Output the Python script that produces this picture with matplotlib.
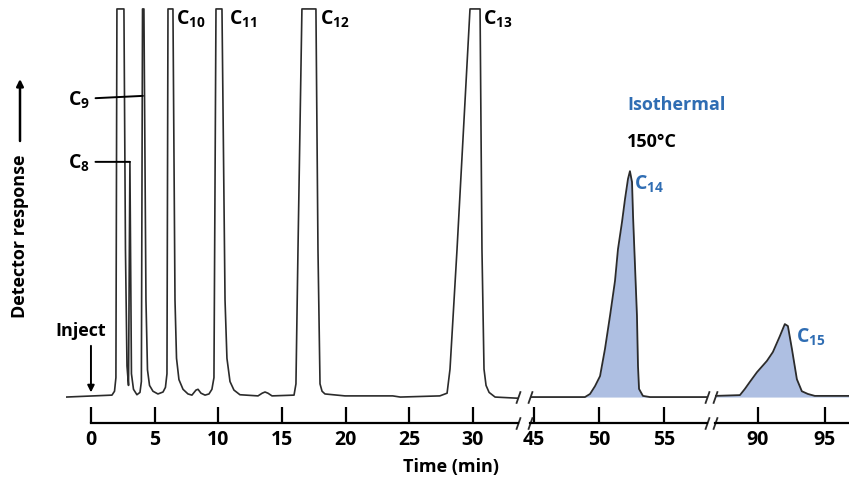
import matplotlib
matplotlib.use("Agg")
import matplotlib.pyplot as plt

plt.rcParams['font.family'] = ['Open Sans', 'DejaVu Sans']
plt.rcParams['font.weight'] = 'bold'
plt.rcParams['mathtext.fontset'] = 'custom'
plt.rcParams['mathtext.rm'] = 'Open Sans:bold'
plt.rcParams['mathtext.bf'] = 'Open Sans:bold'
plt.rcParams['mathtext.default'] = 'rm'

# Temperature-programmed part (0-33 min)
seg1_time = [-1.96, 1.65, 1.85, 1.96, 2.04, 2.59, 2.71, 2.83, 2.95, 3.06, 3.18, 3.34,
             3.61, 3.85, 3.96, 4.05, 4.16, 4.32, 4.44, 4.60, 4.87, 5.26, 5.66, 5.85,
             5.97, 6.05, 6.44, 6.60, 6.72, 6.91, 7.23, 7.62, 7.93, 8.25, 8.41, 8.64,
             8.96, 9.27, 9.50, 9.66, 9.82, 10.29, 10.53, 10.68, 10.92, 11.23, 11.70,
             13.12, 13.45, 13.67, 13.90, 14.22, 15.95, 16.10, 16.26, 16.57, 17.67,
             17.83, 17.99, 18.15, 18.38, 19.95, 23.70, 24.30, 27.40, 27.97, 28.20,
             28.75, 29.77, 30.56, 30.71, 30.87, 31.03, 31.27, 31.74, 33.54]
seg1_resp = [0.0, 0.5, 1.5, 5.0, 100, 100, 38.0, 8.0, 3.0, 60.6, 6.0, 2.0,
             0.6, 1.2, 4.0, 100, 100, 25.0, 7.0, 3.0, 1.5, 0.8, 1.3, 2.5,
             6.0, 100, 100, 25.0, 10.0, 4.5, 2.0, 0.8, 0.5, 1.8, 2.0, 1.0,
             0.5, 0.8, 2.0, 5.0, 100, 100, 25.0, 10.0, 4.0, 1.8, 0.6,
             0.3, 1.0, 1.3, 1.0, 0.3, 0.5, 3.4, 38.0, 100, 100,
             38.0, 3.4, 1.5, 0.8, 0.3, 0.3, 0.0, 0.3, 1.0, 7.2,
             38.0, 100, 100, 38.0, 7.2, 3.0, 1.2, 0.0, -0.3]

# Isothermal part, C14 (45-58 min)
seg2_time = [44.69, 48.92, 49.31, 49.69, 50.08, 50.46, 50.85, 51.23, 51.46, 51.77,
             52.00, 52.23, 52.38, 52.54, 52.62, 52.77, 52.92, 53.00, 53.08, 53.38,
             53.92, 58.31]
seg2_resp = [0.0, 0.0, 0.8, 2.8, 5.4, 12.4, 21.0, 29.9, 38.1, 45.1,
             51.0, 56.2, 58.2, 55.4, 46.6, 33.8, 21.0, 8.0, 2.1, 0.3,
             0.0, 0.0]

# Isothermal part, C15 (87-97 min)
seg3_time = [86.80, 88.66, 89.03, 89.40, 89.93, 90.67, 91.12, 91.64, 92.01, 92.24,
             92.54, 92.91, 93.28, 93.73, 94.25, 96.80]
seg3_resp = [0.3, 0.5, 2.1, 3.9, 6.4, 9.3, 11.6, 15.7, 18.8, 18.3,
             12.4, 4.6, 1.5, 0.8, 0.3, 0.3]

ticks1 = [0, 5, 10, 15, 20, 25, 30]
ticks2 = [45, 50, 55]
ticks3 = [90, 95]

line_color = '#2b2b2b'
fill_color = '#aebfe2'
blue = '#2f6db3'

fig = plt.figure(figsize=(8.49, 4.89), dpi=100)
bottom = 1 - 400 / 489
height = 392 / 489
ax1 = fig.add_axes([66 / 849, bottom, 452 / 849, height])
ax2 = fig.add_axes([530 / 849, bottom, 177 / 849, height])
ax3 = fig.add_axes([715 / 849, bottom, 134 / 849, height])

ax1.plot(seg1_time, seg1_resp, color=line_color, lw=1.2)
ax2.plot(seg2_time, seg2_resp, color=line_color, lw=1.3, zorder=3)
ax2.fill_between(seg2_time, seg2_resp, 0, color=fill_color, lw=0)
ax3.plot(seg3_time, seg3_resp, color=line_color, lw=1.3, zorder=3)
ax3.fill_between(seg3_time, seg3_resp, 0, color=fill_color, lw=0)

ax1.set_xlim(seg1_time[0], seg1_time[-1])
ax2.set_xlim(seg2_time[0], seg2_time[-1])
ax3.set_xlim(seg3_time[0], seg3_time[-1])

for ax, ticks in [(ax1, ticks1), (ax2, ticks2), (ax3, ticks3)]:
    ax.set_ylim(-0.5, 100.5)
    ax.set_yticks([])
    ax.set_xticks(ticks)
    for s in ['top', 'right', 'left']:
        ax.spines[s].set_visible(False)
    ax.spines['bottom'].set_position(('outward', 17.3))
    ax.spines['bottom'].set_linewidth(1.6)
    ax.tick_params(axis='x', direction='in', length=11.5, width=1.6, labelsize=14, pad=4)
    for lab in ax.get_xticklabels():
        lab.set_fontweight('bold')
    ax.patch.set_visible(False)

ax1.spines['bottom'].set_bounds(0, seg1_time[-1])

# break marks on the baseline and on the time axis
brk = dict(marker=[(-0.35, -1), (0.35, 1)], markersize=9, mew=1.3, color=line_color,
           linestyle='none', clip_on=False)
for ax, xs in [(ax1, [1]), (ax2, [0, 1]), (ax3, [0])]:
    for xa in xs:
        ax.plot([xa], [0], transform=ax.get_yaxis_transform(), **brk)
        ax.plot([xa], [-24 / 392], transform=ax.transAxes, **brk)

# peak labels
ax1.annotate('C$_{8}$', xy=(3.06, 60.6), xytext=(-0.94, 60.6), ha='center', va='center',
             fontsize=14, arrowprops=dict(arrowstyle='-', lw=1.4, color='black',
                                          shrinkA=2, shrinkB=0))
ax1.annotate('C$_{9}$', xy=(4.08, 77.6), xytext=(-0.94, 76.8), ha='center', va='center',
             fontsize=14, arrowprops=dict(arrowstyle='-', lw=1.4, color='black',
                                          shrinkA=2, shrinkB=0))
for t, lab in [(6.68, 'C$_{10}$'), (10.84, 'C$_{11}$'), (17.99, 'C$_{12}$'), (30.79, 'C$_{13}$')]:
    ax1.text(t, 100.3, lab, ha='left', va='top', fontsize=14)

ax2.text(52.69, 57.8, 'C$_{14}$', ha='left', va='top', fontsize=14, color=blue)
ax3.text(92.84, 18.5, 'C$_{15}$', ha='left', va='top', fontsize=14, color=blue)
ax2.text(52.15, 77.8, 'Isothermal', ha='left', va='top', fontsize=13, color=blue)
ax2.text(52.15, 68.3, '150°C', ha='left', va='top', fontsize=13, color='black')

ax1.text(-0.8, 17.3, 'Inject', ha='center', va='center', fontsize=13)
ax1.annotate('', xy=(0, 1.2), xytext=(0, 13.2),
             arrowprops=dict(arrowstyle='-|>', lw=1.4, color='black', mutation_scale=10,
                             shrinkA=0, shrinkB=0))

fig.text(451 / 849, 1 - 467 / 489, 'Time (min)', ha='center', va='center', fontsize=13)
fig.text(20 / 849, 1 - 236 / 489, 'Detector response', rotation=90, ha='center',
         va='center', fontsize=13)
ax1.annotate('', xy=(20, 489 - 80), xycoords='figure pixels', xytext=(20, 489 - 142),
             textcoords='figure pixels',
             arrowprops=dict(arrowstyle='-|>', lw=1.8, color='black', mutation_scale=10,
                             shrinkA=0, shrinkB=0))

fig.savefig('out.png', dpi=100)
